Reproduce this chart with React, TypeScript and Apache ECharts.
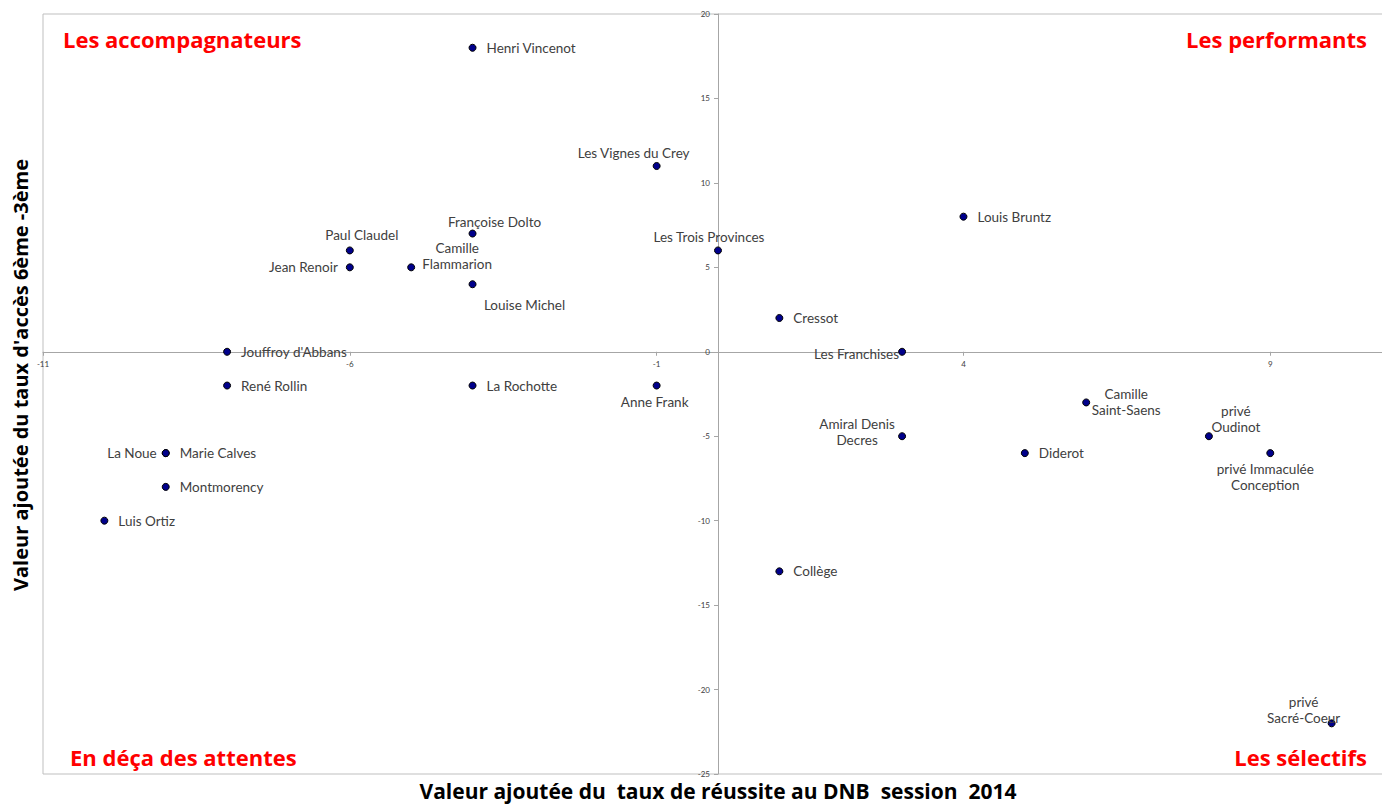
import React, { useEffect, useRef } from "react";
import * as echarts from "echarts";

// ---- data ----
const schoolNames = [
  "Henri Vincenot",
  "Les Vignes du Crey",
  "Louis Bruntz",
  "Françoise Dolto",
  "Paul Claudel",
  "Les Trois Provinces",
  "Jean Renoir",
  "Camille\nFlammarion",
  "Louise Michel",
  "Cressot",
  "Jouffroy d'Abbans",
  "Les Franchises",
  "René Rollin",
  "La Rochotte",
  "Anne Frank",
  "Camille\nSaint-Saens",
  "Amiral Denis\nDecres",
  "privé\nOudinot",
  "La Noue",
  "Marie Calves",
  "Diderot",
  "privé Immaculée\nConception",
  "Montmorency",
  "Luis Ortiz",
  "Collège",
  "privé\nSacré-Coeur",
];
const dnbValues = [-4, -1, 4, -4, -6, 0, -6, -5, -4, 1, -8, 3, -8, -4, -1, 6, 3, 8, -9, -9, 5, 9, -9, -10, 1, 10];
const accesValues = [18, 11, 8, 7, 6, 6, 5, 5, 4, 2, 0, 0, -2, -2, -2, -3, -5, -5, -6, -6, -6, -6, -8, -10, -13, -22];
const xTickValues = [-11, -6, -1, 4, 9];
const yTickValues = [-25, -20, -15, -10, -5, 0, 5, 10, 15, 20];
const X_MIN = -11;
const X_MAX = 11;
const Y_MIN = -25;
const Y_MAX = 20;
const quadrantLabels = ["Les accompagnateurs", "Les performants", "En déça des attentes", "Les sélectifs"];
const xTitle = "Valeur ajoutée du  taux de réussite au DNB  session  2014";
const yTitle = "Valeur ajoutée du taux d'accès 6ème -3ème";

// ---- label layout (style only) ----
type Place = { pos: string; offset?: number[]; distance?: number };
const labelPlaces: Place[] = [
  { pos: "right" },
  { pos: "inside", offset: [-23, -13] },
  { pos: "right" },
  { pos: "inside", offset: [22, -12] },
  { pos: "inside", offset: [12, -15] },
  { pos: "inside", offset: [-9, -13] },
  { pos: "left", distance: 8 },
  { pos: "inside", offset: [46, -11] },
  { pos: "inside", offset: [52, 21] },
  { pos: "right" },
  { pos: "right" },
  { pos: "left", distance: -1, offset: [0, 2] },
  { pos: "right" },
  { pos: "right" },
  { pos: "inside", offset: [-2, 16] },
  { pos: "inside", offset: [40, 0] },
  { pos: "inside", offset: [-45, -4] },
  { pos: "inside", offset: [27, -17] },
  { pos: "left", distance: 5 },
  { pos: "right" },
  { pos: "right" },
  { pos: "inside", offset: [-5, 24] },
  { pos: "right" },
  { pos: "right" },
  { pos: "right" },
  { pos: "inside", offset: [-28, -13] },
];

const LABEL_FONT = "Lato, 'DejaVu Sans', sans-serif";
const TITLE_FONT = "'Open Sans', 'Noto Sans', sans-serif";

const GRID = { left: 43, top: 14, width: 1350, height: 760 };

export default function App() {
  const ref = useRef<HTMLDivElement>(null);
  useEffect(() => {
    if (!ref.current) return;
    const chart = echarts.init(ref.current, null, { renderer: "svg" });
    const data = schoolNames.map((n, i) => {
      const p = labelPlaces[i];
      return {
        name: n,
        value: [dnbValues[i], accesValues[i]],
        label: {
          position: p.pos,
          distance: p.distance ?? 10,
          offset: p.offset ?? [0, 0],
          align: p.pos === "inside" ? "center" : undefined,
        },
      };
    });
    // move axes so they cross at zero (labels follow the lines)
    const zeroY = GRID.top + ((Y_MAX - 0) / (Y_MAX - Y_MIN)) * GRID.height;
    const zeroX = GRID.left + ((0 - X_MIN) / (X_MAX - X_MIN)) * GRID.width;
    const xOffset = -(GRID.top + GRID.height - zeroY);
    const yOffset = -(zeroX - GRID.left);
    const axisLabelStyle = { fontSize: 8, color: "#404040", fontFamily: LABEL_FONT };
    chart.setOption({
      animation: false,
      grid: {
        ...GRID,
        outerBoundsMode: "none",
        containLabel: false,
        show: true,
        borderColor: "#bfbfbf",
        borderWidth: 1,
        backgroundColor: "transparent",
      },
      xAxis: {
        type: "value",
        min: X_MIN,
        max: X_MAX,
        position: "bottom",
        offset: xOffset,
        splitLine: { show: false },
        axisLine: { onZero: false, lineStyle: { color: "#a6a6a6", width: 1 } },
        axisTick: { show: true, length: 4, customValues: xTickValues, lineStyle: { color: "#a6a6a6" } },
        axisLabel: { ...axisLabelStyle, margin: 8, customValues: xTickValues },
      },
      yAxis: {
        type: "value",
        min: Y_MIN,
        max: Y_MAX,
        interval: 5,
        position: "left",
        offset: yOffset,
        splitLine: { show: false },
        axisLine: { onZero: false, lineStyle: { color: "#a6a6a6", width: 1 } },
        axisTick: { show: true, length: 4, customValues: yTickValues, lineStyle: { color: "#a6a6a6" } },
        axisLabel: { ...axisLabelStyle, margin: 8, customValues: yTickValues },
      },
      series: [
        {
          type: "scatter",
          symbol: "circle",
          symbolSize: 7,
          itemStyle: { color: "#00008b", borderColor: "#000000", borderWidth: 1, opacity: 1 },
          label: {
            show: true,
            formatter: "{b}",
            color: "#404040",
            fontFamily: LABEL_FONT,
            fontSize: 13.5,
            lineHeight: 16,
          },
          emphasis: { disabled: true },
          data,
        },
      ],
      graphic: [
        {
          type: "text",
          left: 63,
          top: 28,
          style: { text: quadrantLabels[0], fill: "#ff0000", font: `bold 22px ${TITLE_FONT}` },
        },
        {
          type: "text",
          right: 15,
          top: 28,
          style: { text: quadrantLabels[1], fill: "#ff0000", font: `bold 22px ${TITLE_FONT}` },
        },
        {
          type: "text",
          left: 70,
          top: 746,
          style: { text: quadrantLabels[2], fill: "#ff0000", font: `bold 22px ${TITLE_FONT}` },
        },
        {
          type: "text",
          right: 15,
          top: 746,
          style: { text: quadrantLabels[3], fill: "#ff0000", font: `bold 22px ${TITLE_FONT}` },
        },
        {
          type: "text",
          x: 718,
          y: 791,
          style: {
            text: xTitle,
            fill: "#000000",
            font: `bold 21px ${TITLE_FONT}`,
            textAlign: "center",
            textVerticalAlign: "middle",
          },
        },
        {
          type: "text",
          x: 20,
          y: 375,
          rotation: Math.PI / 2,
          style: {
            text: yTitle,
            fill: "#000000",
            font: `bold 20px ${TITLE_FONT}`,
            textAlign: "center",
            textVerticalAlign: "middle",
          },
        },
      ],
    });
    return () => chart.dispose();
  }, []);
  return (
    <div
      ref={ref}
      style={{ position: "absolute", left: 0, top: 0, width: 1382, height: 804, background: "#fff" }}
    />
  );
}
